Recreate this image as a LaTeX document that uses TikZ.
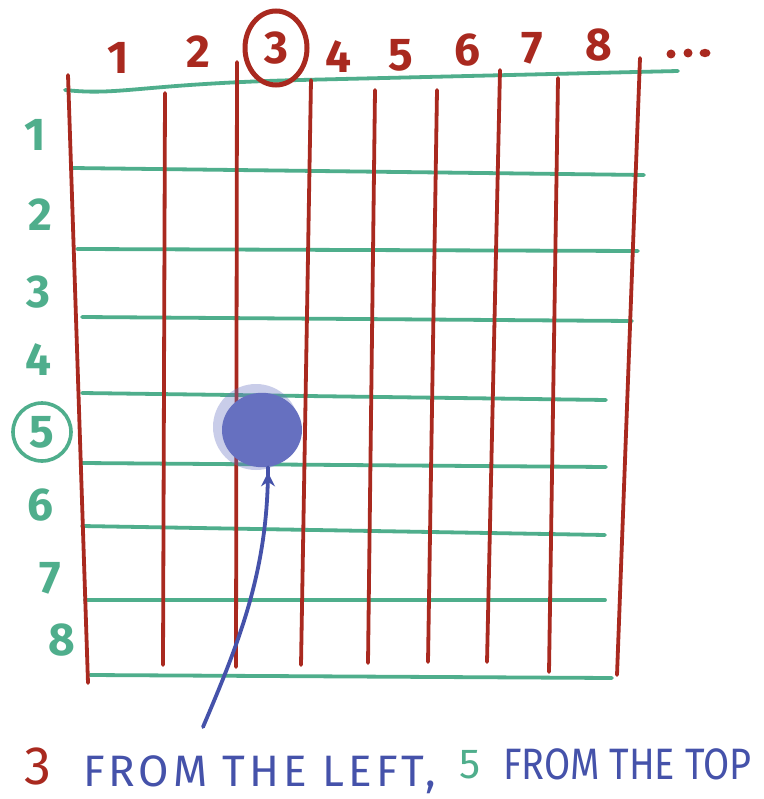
\documentclass[tikz,border=0pt]{standalone}
\usepackage{fontspec}
\setmainfont{Fira Sans}
\usetikzlibrary{arrows.meta}
\definecolor{gred}{HTML}{A9291F}
\definecolor{ggreen}{HTML}{4FAE8C}
\definecolor{gblue}{HTML}{4552AA}
\definecolor{gblob}{HTML}{6670C0}
\tikzset{
  redline/.style={draw=gred,line width=3.8pt,line cap=round},
  greenline/.style={draw=ggreen,line width=3.8pt,line cap=round},
  redlab/.style={text=gred,font=\fontsize{46}{46}\selectfont\bfseries,inner sep=0pt},
  greenlab/.style={text=ggreen,font=\fontsize{46}{46}\selectfont\bfseries,inner sep=0pt},
  bluetext/.style={text=gblue,font=\fontsize{44}{44}\selectfont,inner sep=0pt,anchor=base west},
}
\begin{document}
\begin{tikzpicture}[x=1pt,y=-1pt]
\useasboundingbox (0,0) rectangle (763,799);
\fill[white] (0,0) rectangle (763,799);
% green horizontals
\draw[greenline] (65,90) .. controls (120,96) and (140,84) .. (300,80) -- (678,71);
\draw[greenline] (72,168) -- (644,175);
\draw[greenline] (77,249) -- (638,251);
\draw[greenline] (82,317) -- (632,321);
\draw[greenline] (82,393) -- (606,400);
\draw[greenline] (82,463) -- (606,467);
\draw[greenline] (82,526) -- (605,535);
\draw[greenline] (85,600) -- (605,600);
\draw[greenline] (90,675) -- (612,678);
% red verticals
\draw[redline] (68,75) -- (88,683);
\draw[redline] (165,93) -- (163,665);
\draw[redline] (237,62) -- (236,667);
\draw[redline] (311,80) -- (301,665);
\draw[redline] (375,90) -- (368,663);
\draw[redline] (437,90) -- (428,662);
\draw[redline] (500,70) -- (487,662);
\draw[redline] (558,78) -- (549,672);
\draw[redline] (640,58) -- (617,675);
% blob
\fill[gblob,opacity=0.35] (256,427) circle (43);
\node[circle,fill=gblob,minimum width=80pt,minimum height=80pt,inner sep=0pt,yscale=0.93] (blob) at (262,430) {};
% top labels
\node[redlab] (c1) at (118,58) {1};
\node[redlab] (c2) at (198,52) {2};
\node[redlab] (c3) at (276,48) {3};
\draw[gred,line width=5pt] (c3) ellipse (31 and 37);
\node[redlab] (c4) at (338,57) {4};
\node[redlab] (c5) at (401,55) {5};
\node[redlab] (c6) at (467,50) {6};
\node[redlab] (c7) at (532,48) {7};
\node[redlab] (c8) at (599,45) {8};
\node[inner sep=0pt,minimum size=0pt] (cdots) at (688,53) {};
\fill[gred] (cdots) ++(-17,1) circle (4.5) (cdots) circle (4.5) (cdots) ++(17,0) ellipse (5.5 and 4.2);
% left labels
\node[greenlab] (r1) at (35,135) {1};
\node[greenlab] (r2) at (40,215) {2};
\node[greenlab] (r3) at (38,292) {3};
\node[greenlab] (r4) at (38,360) {4};
\node[greenlab] (r5) at (42,432) {5};
\draw[ggreen,line width=3.6pt] (r5) circle (29);
\node[greenlab] (r6) at (40,505) {6};
\node[greenlab] (r7) at (50,578) {7};
\node[greenlab] (r8) at (62,640) {8};
% arrow
\coordinate (astart) at (203,727);
\draw[gblue,line width=3.8pt,line cap=round,-{Stealth[length=14pt,width=14pt]}] (astart) .. controls (240,640) and (268,570) .. (blob.south -| 268,0) ++(0,5);
% caption
\node[text=gred,font=\fontsize{54}{54}\selectfont,inner sep=0pt,anchor=base west] (cap3) at (24,784) {3};
\node[bluetext] (capa) at (83,786) {\addfontfeatures{LetterSpace=9}FROM THE LEFT,};
\node[text=ggreen,font=\fontsize{42}{42}\selectfont,inner sep=0pt,anchor=base west] (cap5) at (459,778) {5};
\node[bluetext,xscale=0.86] (capb) at (503,779) {FROM THE TOP};
\end{tikzpicture}
\end{document}
